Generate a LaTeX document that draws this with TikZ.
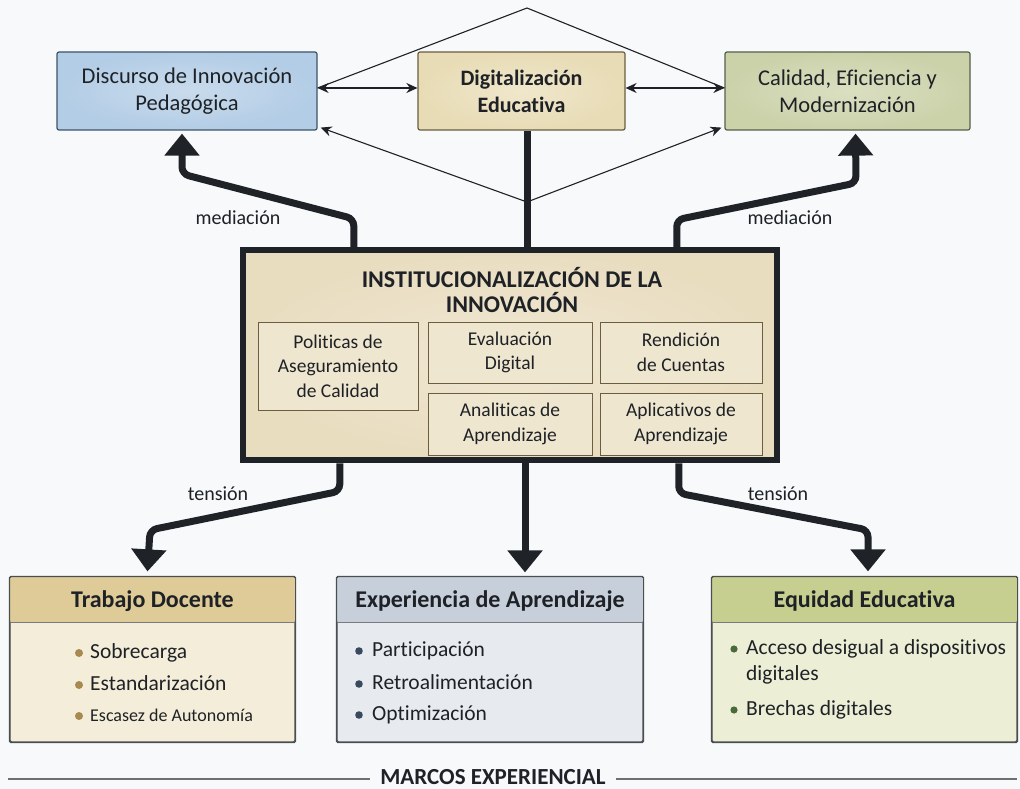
\documentclass[tikz,border=0pt]{standalone}
\usepackage{fontspec}
\setmainfont{Carlito}[Ligatures={NoCommon}]
\usetikzlibrary{arrows.meta,calc}
\definecolor{bgc}{HTML}{F7F9FB}
\definecolor{ink}{HTML}{1E2226}
\definecolor{thick}{HTML}{1F2328}
\definecolor{bluef}{HTML}{B3CDE6}
\definecolor{bluel}{HTML}{C9DBEC}
\definecolor{blued}{HTML}{3E5468}
\definecolor{tanf}{HTML}{E8DCB6}
\definecolor{tanl}{HTML}{F0E7CB}
\definecolor{tand}{HTML}{6A5D42}
\definecolor{greenf}{HTML}{CBD2AA}
\definecolor{greenl}{HTML}{DADFC1}
\definecolor{greend}{HTML}{55604A}
\definecolor{instf}{HTML}{E9DDC0}
\definecolor{innerf}{HTML}{EFE6CF}
\definecolor{trabh}{HTML}{DECB97}
\definecolor{trabb}{HTML}{F4EDD9}
\definecolor{exph}{HTML}{C6CFDA}
\definecolor{expb}{HTML}{E7EBF0}
\definecolor{equh}{HTML}{C6CE90}
\definecolor{equb}{HTML}{ECEFD6}
\definecolor{tanbul}{HTML}{A88A50}
\definecolor{bluebul}{HTML}{3A4A5E}
\definecolor{greenbul}{HTML}{4B6A3C}
\tikzset{
  topbox/.style={draw, line width=1.2pt, rounded corners=2pt, align=center, text=ink,
    minimum height=78pt, font=\fontsize{22.5}{27}\selectfont},
  innerbox/.style={draw=tand, line width=1pt, fill=innerf, align=center, text=ink,
    font=\fontsize{19.5}{24.5}\selectfont},
  lowbox/.style={draw=ink!80, line width=1.2pt, rounded corners=1.5pt, minimum width=#1, minimum height=165pt},
  lowtitle/.style={text=ink, font=\bfseries\fontsize{24}{28}\selectfont},
  item/.style={anchor=west, text=ink, inner sep=0pt, text height=11pt, text depth=3pt,
    font=\fontsize{21.5}{25}\selectfont},
  lbl/.style={text=ink, font=\fontsize{20}{24}\selectfont},
  fat/.style={draw=thick, line width=7pt, rounded corners=7pt},
  fathead/.style={fat, -{Triangle[width=34pt,length=22pt]}},
  thin/.style={draw=ink, line width=1.1pt},
  dbl/.style={thin, {Stealth[length=11pt,width=10pt]}-{Stealth[length=11pt,width=10pt]}},
  sgl/.style={thin, -{Stealth[length=11pt,width=10pt]}},
}
\begin{document}
\begin{tikzpicture}[x=1pt,y=-1pt]
\fill[bgc] (0,0) rectangle (1020,789);
\useasboundingbox (0,0) rectangle (1020,789);

% top boxes
\node[topbox, inner color=bluel, outer color=bluef, draw=blued, minimum width=260pt] (disc) at (187,91) {Discurso de Innovación\\Pedagógica};
\node[topbox, inner color=tanl, outer color=tanf, draw=tand, minimum width=207pt, font=\bfseries\fontsize{22}{27}\selectfont] (digi) at (521.5,91) {Digitalización\\Educativa};
\node[topbox, inner color=greenl, outer color=greenf, draw=greend, minimum width=245pt] (cali) at (847.5,91) {Calidad, Eficiencia y\\Modernización};

% central box
\node[draw=thick, line width=6.5pt, inner color=instf!70!white, outer color=instf, minimum width=534pt, minimum height=210pt] (inst) at (510,355) {};
\node[text=ink, align=center, font=\bfseries\fontsize{24}{25}\selectfont] (insttitle) at (512,290) {INSTITUCIONALIZACIÓN DE LA\\INNOVACIÓN};
\node[innerbox, minimum width=160pt, minimum height=88pt] (poli) at (338,366) {Politicas de\\Aseguramiento\\de Calidad};
\node[innerbox, minimum width=164pt, minimum height=61pt] (eval) at (510,352.5) {Evaluación\\Digital};
\node[innerbox, minimum width=162pt, minimum height=61pt] (rend) at (681,352.5) {Rendición\\de Cuentas};
\node[innerbox, minimum width=164pt, minimum height=62pt] (anal) at (510,424) {Analiticas de\\Aprendizaje};
\node[innerbox, minimum width=162pt, minimum height=62pt] (apli) at (681,424) {Aplicativos de\\Aprendizaje};

% thin relations
\coordinate (apex) at (527,8);
\coordinate (low) at (527,202);
\draw[dbl] (disc.east |- 0,88) -- (digi.west |- 0,88);
\draw[dbl] (digi.east |- 0,88) -- (cali.west |- 0,88);
\draw[thin] (disc.east |- 0,88) -- (apex) -- (cali.west |- 0,88);
\draw[sgl] (low) -- ($(disc.south east)+(3,-3)$);
\draw[sgl] (low) -- ($(cali.south west)+(-3,-3)$);

% thick connectors
\draw[fat, rounded corners=0pt] (digi.south -| low) -- (inst.north -| low);
\draw[fathead] ($(inst.north west)+(114,0)$) -- ++(0,-28) -- (182,174) -- ($(disc.south)+(-5,3)$);
\draw[fathead] ($(inst.north west)+(437,0)$) -- ++(0,-27) -- (856,183) -- ($(cali.south)+(8,3)$);
\node[lbl] (med1) at (238,218) {mediación};
\node[lbl] (med2) at (790,218) {mediación};

% bottom boxes
\node[lowbox=285pt, fill=trabb] (trab) at (152.5,659.5) {};
\node[lowbox=306pt, fill=expb] (expe) at (490,659.5) {};
\node[lowbox=305pt, fill=equb] (equi) at (864.5,659.5) {};
\begin{scope}
\fill[trabh, rounded corners=1.5pt] ($(trab.north west)+(0.6,0.6)$) rectangle ($(trab.north east)+(-0.6,46)$);
\fill[exph, rounded corners=1.5pt] ($(expe.north west)+(0.6,0.6)$) rectangle ($(expe.north east)+(-0.6,46)$);
\fill[equh, rounded corners=1.5pt] ($(equi.north west)+(0.6,0.6)$) rectangle ($(equi.north east)+(-0.6,46)$);
\draw[ink!60, line width=0.8pt] ($(trab.north west)+(0,46)$) -- ($(trab.north east)+(0,46)$);
\draw[ink!60, line width=0.8pt] ($(expe.north west)+(0,46)$) -- ($(expe.north east)+(0,46)$);
\draw[ink!60, line width=0.8pt] ($(equi.north west)+(0,46)$) -- ($(equi.north east)+(0,46)$);
\draw[ink!80, line width=1.2pt, rounded corners=1.5pt] (trab.north west) rectangle (trab.south east);
\draw[ink!80, line width=1.2pt, rounded corners=1.5pt] (expe.north west) rectangle (expe.south east);
\draw[ink!80, line width=1.2pt, rounded corners=1.5pt] (equi.north west) rectangle (equi.south east);
\end{scope}
\node[lowtitle] (trabt) at ($(trab.north)+(0,25)$) {Trabajo Docente};
\node[lowtitle] (expet) at ($(expe.north)+(0,25)$) {Experiencia de Aprendizaje};
\node[lowtitle] (equit) at ($(equi.north)+(0,25)$) {Equidad Educativa};

\node[item] (t1) at (90,654) {Sobrecarga};
\node[item] (t2) at (90,686) {Estandarización};
\node[item, font=\fontsize{18}{22}\selectfont] (t3) at (90,717) {Escasez de Autonomía};
\foreach \n in {t1,t2,t3} \fill[tanbul] ($(\n.west)+(-11,-1)$) circle (4pt);

\node[item] (e1) at (372,652) {Participación};
\node[item] (e2) at (372,685) {Retroalimentación};
\node[item] (e3) at (372,716) {Optimización};
\foreach \n in {e1,e2,e3} \fill[bluebul] ($(\n.west)+(-13,-1)$) circle (3.8pt);

\node[item] (q1) at (746,650) {Acceso desigual a dispositivos};
\node[item] (q1b) at (746,676) {digitales};
\node[item] (q2) at (746,711) {Brechas digitales};
\foreach \n in {q1,q2} \fill[greenbul] ($(\n.west)+(-12,-1)$) circle (3.6pt);

% bottom thick connectors
\draw[fathead] ($(inst.south west)+(100,0)$) -- ++(0,28) -- (150,530) -- ($(trab.north)+(-5,-5)$);
\draw[fathead, rounded corners=0pt] (inst.south -| 525,0) -- ($(expe.north -| 525,0)+(0,-4)$);
\draw[fathead] ($(inst.south west)+(439,0)$) -- ++(0,30) -- (868,530) -- ($(equi.north)+(3.5,-5)$);
\node[lbl] (ten1) at (218,494) {tensión};
\node[lbl] (ten2) at (778,494) {tensión};

% footer
\node[text=ink, inner sep=10pt, font=\bfseries\fontsize{23}{26}\selectfont] (marcos) at (493,777) {MARCOS EXPERIENCIAL};
\coordinate (fl) at (8,779);
\coordinate (fr) at (1017,779);
\draw[ink!65, line width=1.5pt] (fl) -- (marcos.west |- fl);
\draw[ink!65, line width=1.5pt] (marcos.east |- fr) -- (fr);
\end{tikzpicture}
\end{document}
